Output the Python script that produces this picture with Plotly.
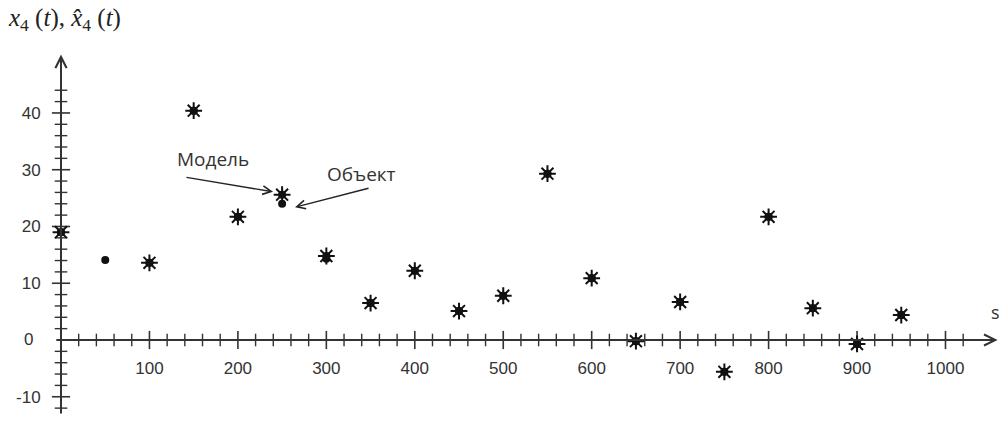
import plotly.graph_objects as go

# Sample times and the two series: object output x4(t) and model output x^4(t)
t = [0, 50, 100, 150, 200, 250, 300, 350, 400, 450,
     500, 550, 600, 650, 700, 750, 800, 850, 900, 950]
model = [19.0, None, 13.6, 40.4, 21.7, 25.6, 14.8, 6.5, 12.2, 5.1,
         7.8, 29.3, 10.9, -0.2, 6.7, -5.6, 21.7, 5.6, -0.7, 4.4]
obj = [19.0, 14.1, 13.6, 40.4, 21.7, 24.0, 14.3, 6.5, 12.2, 5.1,
       7.8, 29.3, 10.9, -0.2, 6.7, -5.6, 21.7, 5.6, -0.7, 4.4]

# Axis ticks
x_major = [100, 200, 300, 400, 500, 600, 700, 800, 900, 1000]
x_minor = [v for v in range(20, 1040, 20) if v % 100 != 0]
y_major = [-10, 10, 20, 30, 40]
y_minor = [v for v in range(-12, 46, 2) if v % 10 != 0]
x_labels = [str(v) for v in x_major]
y_labels = [str(v) for v in y_major]

AX = "#333333"
TXT = "#333333"
LBL_FONT = dict(family="Liberation Sans, Arial", size=17, color=TXT)

fig = go.Figure()

# tick marks crossing the axes
fig.add_trace(go.Scatter(x=x_major, y=[0] * len(x_major), mode="markers",
                         marker=dict(symbol="line-ns", size=13,
                                     line=dict(color=AX, width=1.6)),
                         hoverinfo="skip", showlegend=False))
fig.add_trace(go.Scatter(x=x_minor, y=[0] * len(x_minor), mode="markers",
                         marker=dict(symbol="line-ns", size=9,
                                     line=dict(color=AX, width=1.4)),
                         hoverinfo="skip", showlegend=False))
fig.add_trace(go.Scatter(x=[0] * len(y_major), y=y_major, mode="markers",
                         marker=dict(symbol="line-ew", size=13,
                                     line=dict(color=AX, width=1.6)),
                         hoverinfo="skip", showlegend=False))
fig.add_trace(go.Scatter(x=[0] * len(y_minor), y=y_minor, mode="markers",
                         marker=dict(symbol="line-ew", size=9,
                                     line=dict(color=AX, width=1.4)),
                         hoverinfo="skip", showlegend=False))

# object (dots) and model (asterisks)
fig.add_trace(go.Scatter(x=t, y=obj, mode="markers", name="Объект",
                         marker=dict(symbol="circle", size=8, color="#111111"),
                         cliponaxis=False, showlegend=False))
fig.add_trace(go.Scatter(x=t, y=model, mode="markers", name="Модель",
                         marker=dict(symbol="asterisk", size=14,
                                     line=dict(color="#111111", width=2)),
                         cliponaxis=False, showlegend=False))
fig.add_trace(go.Scatter(x=t, y=model, mode="markers", showlegend=False,
                         marker=dict(symbol="circle", size=8, color="#111111"),
                         hoverinfo="skip"))

title = ("<i>x</i><sub>4</sub> (<i>t</i>), "
         "<i>x̂</i><sub>4</sub> (<i>t</i>)")

annotations = [
    # axes with arrow heads
    dict(x=0, y=50.3, ax=0, ay=-13.2, xref="x", yref="y", axref="x", ayref="y",
         text="", showarrow=True, arrowhead=5, arrowsize=1.1, arrowwidth=2,
         arrowcolor=AX, standoff=0),
    dict(x=1059, y=0, ax=-7, ay=0, xref="x", yref="y", axref="x", ayref="y",
         text="", showarrow=True, arrowhead=5, arrowsize=1.1, arrowwidth=2,
         arrowcolor=AX, standoff=0),
    # origin label and axis names
    dict(x=0, y=0, xref="x", yref="y", text="0", showarrow=False,
         xanchor="right", xshift=-26, yshift=1, font=LBL_FONT),
    dict(x=1049.5, y=4.9, xref="x", yref="y", text="s", showarrow=False,
         xanchor="left", font=dict(family="Open Sans", size=18, color=TXT)),
    dict(x=6 / 999, y=1 - 2 / 421, xref="paper", yref="paper",
         xanchor="left", yanchor="top", showarrow=False, text=title,
         font=dict(family="Liberation Serif, Times New Roman", size=25,
                   color="#222222")),
    # pointers to the model and object markers
    dict(x=171.9, y=31.9, xref="x", yref="y", text="Модель", showarrow=False,
         font=dict(family="Open Sans", size=19, color=TXT)),
    dict(x=339.2, y=29.25, xref="x", yref="y", text="Объект", showarrow=False,
         font=dict(family="Open Sans", size=19, color=TXT)),
    dict(x=239.7, y=26.1, ax=140.2, ay=28.7, xref="x", yref="y", axref="x",
         ayref="y", text="", showarrow=True, arrowhead=5, arrowsize=1.2,
         arrowwidth=1.4, arrowcolor="#222222", standoff=0),
    dict(x=264.6, y=23.4, ax=349.4, ay=26.8, xref="x", yref="y", axref="x",
         ayref="y", text="", showarrow=True, arrowhead=5, arrowsize=1.2,
         arrowwidth=1.4, arrowcolor="#222222", standoff=0),
]

fig.update_layout(
    width=999, height=421,
    margin=dict(l=0, r=0, t=0, b=0, pad=0),
    paper_bgcolor="white", plot_bgcolor="white",
    showlegend=False,
    annotations=annotations,
    xaxis=dict(range=[-68.97, 1060.5], showgrid=False, zeroline=False,
               showline=False, tickmode="array", tickvals=x_major,
               ticktext=x_labels, ticks="outside", ticklen=13,
               tickcolor="rgba(0,0,0,0)", anchor="free",
               position=81 / 421, tickfont=LBL_FONT),
    yaxis=dict(range=[-14.27, 59.9], showgrid=False, zeroline=False,
               showline=False, tickmode="array", tickvals=y_major,
               ticktext=y_labels, ticks="outside", ticklen=17,
               tickcolor="rgba(0,0,0,0)", anchor="free",
               position=61 / 999, tickfont=LBL_FONT),
)

fig.write_html("out.html")
